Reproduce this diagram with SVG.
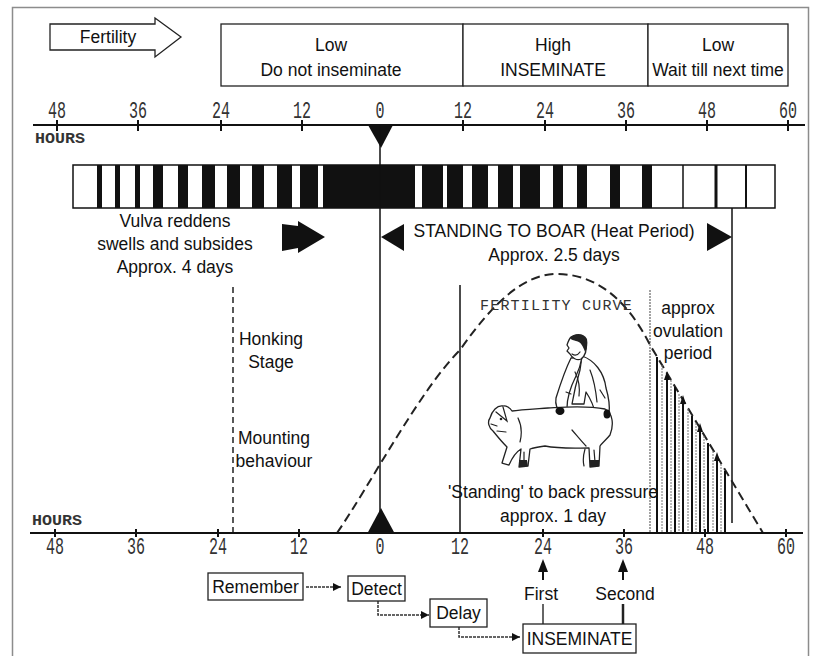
<svg xmlns="http://www.w3.org/2000/svg" width="818" height="656" viewBox="0 0 818 656">
  <style>
    .lbl { font-family: "Liberation Sans", Arial, sans-serif; font-size: 17.5px; fill: #111; }
    .mid { text-anchor: middle; }
    .num { font-family: "Liberation Mono", "DejaVu Sans Mono", monospace; font-size: 23px; fill: #333; text-anchor: middle; }
    .hrs { font-family: "Liberation Mono", "DejaVu Sans Mono", monospace; font-size: 14px; font-weight: bold; fill: #333; }
    .curve-lbl { font-family: "Liberation Mono", "DejaVu Sans Mono", monospace; font-size: 15px; letter-spacing: 1.2px; fill: #333; }
    .box { fill: #fff; stroke: #222; stroke-width: 1.3; }
    .axis { stroke: #111; stroke-width: 2; fill: none; }
    .tick { stroke: #111; stroke-width: 2; }
    .thin { stroke: #111; stroke-width: 1.5; fill: none; }
    .dash { stroke: #222; stroke-width: 1.5; stroke-dasharray: 6 4; fill: none; }
    .fcurve { stroke: #222; stroke-width: 2; stroke-dasharray: 9 5; fill: none; }
    .hatch { stroke: #111; stroke-width: 2; }
    .hatch2 { stroke: #777; stroke-width: 1; stroke-dasharray: 2 1; }
    .flow { stroke: #333; stroke-width: 1.5; stroke-dasharray: 3 1; fill: none; }
    .sketch { stroke: #222; stroke-width: 1.3; fill: #fff; stroke-linejoin: round; stroke-linecap: round; }
    .sk-line { stroke: #222; stroke-width: 1.2; fill: none; stroke-linecap: round; }
  </style>
  <defs>
    <marker id="arr" markerUnits="userSpaceOnUse" markerWidth="9" markerHeight="8" refX="8" refY="4" orient="auto">
      <path d="M0,0 L8,4 L0,8 z" fill="#111"/>
    </marker>
  </defs>

  <!-- page frame -->
  <rect x="12.5" y="7.5" width="796" height="660" fill="#fff" stroke="#8c8c8c" stroke-width="1.5"/>

  <!-- fertility legend -->
  <g id="fertility-arrow">
    <polygon class="box" points="50,24 155,24 155,18 181,37 155,57 155,50 50,50"/>
    <text class="lbl mid" x="108" y="43">Fertility</text>
  </g>
  <g id="phase-low">
    <rect class="box" x="221" y="24" width="242" height="62"/>
    <text class="lbl mid" x="331" y="51">Low</text>
    <text class="lbl mid" x="331" y="76">Do not inseminate</text>
  </g>
  <g id="phase-high">
    <rect class="box" x="463" y="24" width="185" height="62"/>
    <text class="lbl mid" x="553" y="51">High</text>
    <text class="lbl mid" x="553" y="76">INSEMINATE</text>
  </g>
  <g id="phase-late">
    <rect class="box" x="648" y="24" width="140" height="62"/>
    <text class="lbl mid" x="718" y="51">Low</text>
    <text class="lbl mid" x="718" y="76">Wait till next time</text>
  </g>

  <!-- upper hour scale -->
  <g id="top-scale">
    <line class="axis" x1="33" y1="125" x2="805" y2="125"/>
    <g class="tick">
      <line x1="57" y1="120" x2="57" y2="131"/><line x1="138" y1="120" x2="138" y2="131"/>
      <line x1="221" y1="120" x2="221" y2="131"/><line x1="302" y1="120" x2="302" y2="131"/>
      <line x1="463" y1="120" x2="463" y2="131"/><line x1="545" y1="120" x2="545" y2="131"/>
      <line x1="626" y1="120" x2="626" y2="131"/><line x1="707" y1="120" x2="707" y2="131"/>
      <line x1="788" y1="120" x2="788" y2="131"/>
    </g>
    <text class="num" x="57" y="118" textLength="18" lengthAdjust="spacingAndGlyphs">48</text>
    <text class="num" x="138" y="118" textLength="18" lengthAdjust="spacingAndGlyphs">36</text>
    <text class="num" x="221" y="118" textLength="18" lengthAdjust="spacingAndGlyphs">24</text>
    <text class="num" x="302" y="118" textLength="18" lengthAdjust="spacingAndGlyphs">12</text>
    <text class="num" x="380" y="118" textLength="9" lengthAdjust="spacingAndGlyphs">0</text>
    <text class="num" x="463" y="118" textLength="18" lengthAdjust="spacingAndGlyphs">12</text>
    <text class="num" x="545" y="118" textLength="18" lengthAdjust="spacingAndGlyphs">24</text>
    <text class="num" x="626" y="118" textLength="18" lengthAdjust="spacingAndGlyphs">36</text>
    <text class="num" x="707" y="118" textLength="18" lengthAdjust="spacingAndGlyphs">48</text>
    <text class="num" x="788" y="118" textLength="18" lengthAdjust="spacingAndGlyphs">60</text>
    <text class="hrs" x="35" y="143" textLength="50" lengthAdjust="spacingAndGlyphs">HOURS</text>
    <polygon points="368,125 393,125 381,148" fill="#111"/>
  </g>

  <!-- vulva colour bar -->
  <g id="colour-bar">
    <rect x="73" y="165" width="702" height="43" fill="#fff" stroke="#111" stroke-width="1.5"/>
    <g fill="#111">
      <rect x="97" y="165" width="5" height="43"/><rect x="115" y="165" width="5" height="43"/>
      <rect x="135" y="165" width="5" height="43"/><rect x="153" y="165" width="10" height="43"/>
      <rect x="178" y="165" width="10" height="43"/><rect x="202" y="165" width="13" height="43"/>
      <rect x="227" y="165" width="13" height="43"/><rect x="252" y="165" width="12" height="43"/>
      <rect x="277" y="165" width="15" height="43"/><rect x="300" y="165" width="18" height="43"/>
      <rect x="323" y="165" width="92" height="43"/>
      <rect x="422" y="165" width="21" height="43"/><rect x="447" y="165" width="16" height="43"/>
      <rect x="472" y="165" width="16" height="43"/><rect x="498" y="165" width="15" height="43"/>
      <rect x="520" y="165" width="20" height="43"/><rect x="553" y="165" width="10" height="43"/>
      <rect x="577" y="165" width="10" height="43"/><rect x="610" y="165" width="10" height="43"/>
      <rect x="642" y="165" width="10" height="43"/>
    </g>
    <line x1="683" y1="165" x2="683" y2="208" stroke="#111" stroke-width="1.5"/>
    <line x1="716" y1="165" x2="716" y2="208" stroke="#111" stroke-width="3"/>
    <line x1="746" y1="165" x2="746" y2="208" stroke="#111" stroke-width="2"/>
  </g>

  <!-- vulva changes -->
  <g id="vulva-note">
    <text class="lbl mid" x="175" y="227">Vulva reddens</text>
    <text class="lbl mid" x="175" y="250">swells and subsides</text>
    <text class="lbl mid" x="175" y="273">Approx. 4 days</text>
    <polygon points="282,224 298,226 298,221 325,237 298,253 298,248 282,251" fill="#111"/>
  </g>

  <!-- heat period -->
  <g id="heat-period">
    <polygon points="381,237 404,224 404,251" fill="#111"/>
    <polygon points="707,223 707,251 732,237" fill="#111"/>
    <text class="lbl mid" x="554" y="237">STANDING TO BOAR (Heat Period)</text>
    <text class="lbl mid" x="554" y="261">Approx. 2.5 days</text>
  </g>

  <!-- guide lines and the fertility curve -->
  <g id="connectors">
    <line class="thin" x1="380" y1="125" x2="380" y2="520"/>
    <line class="thin" x1="732" y1="208" x2="732" y2="523"/>
    <line class="thin" x1="460" y1="285" x2="460" y2="533"/>
    <line class="dash" x1="233" y1="287" x2="233" y2="533"/>
    <line x1="650" y1="290" x2="650" y2="533" stroke="#666" stroke-width="1.2" stroke-dasharray="2 1"/>
    <path class="fcurve" d="M337,533 C370,485 420,390 460,350 C495,300 525,274 557,274 C600,274 630,305 650,345 L763,533"/>
    <!-- ovulation hatching -->
    <g class="hatch">
      <line x1="657" y1="357" x2="657" y2="533"/><line x1="667" y1="374" x2="667" y2="533"/>
      <line x1="675" y1="387" x2="675" y2="533"/><line x1="683" y1="401" x2="683" y2="533"/>
      <line x1="692" y1="416" x2="692" y2="533"/><line x1="700" y1="429" x2="700" y2="533"/>
      <line x1="708" y1="443" x2="708" y2="533"/><line x1="717" y1="458" x2="717" y2="533"/>
      <line x1="725" y1="471" x2="725" y2="533"/>
    </g>
    <g class="hatch2">
      <line x1="662" y1="365" x2="662" y2="533"/><line x1="671" y1="380" x2="671" y2="533"/>
      <line x1="679" y1="394" x2="679" y2="533"/><line x1="688" y1="409" x2="688" y2="533"/>
      <line x1="696" y1="423" x2="696" y2="533"/><line x1="704" y1="436" x2="704" y2="533"/>
      <line x1="713" y1="451" x2="713" y2="533"/><line x1="721" y1="464" x2="721" y2="533"/>
    </g>
    <g fill="#111">
      <polygon points="664,380 667,371 670,380"/><polygon points="680,404 683,395 686,404"/>
      <polygon points="697,432 700,423 703,432"/><polygon points="714,461 717,452 720,461"/>
    </g>
    <!-- insemination flow -->
    <line class="flow" x1="306" y1="587" x2="341" y2="587" marker-end="url(#arr)"/>
    <path class="flow" d="M378,601 V615 H429" marker-end="url(#arr)"/>
    <path class="flow" d="M459,627 V637 H520" marker-end="url(#arr)"/>
    <line x1="543" y1="604" x2="543" y2="624" stroke="#333" stroke-width="1.5"/>
    <line x1="623" y1="604" x2="623" y2="624" stroke="#222" stroke-width="2.5"/>
    <line x1="543" y1="580" x2="543" y2="568" stroke="#111" stroke-width="2"/>
    <polygon points="538,572 543,559 548,572" fill="#111"/>
    <line x1="623" y1="580" x2="623" y2="568" stroke="#111" stroke-width="2"/>
    <polygon points="618,572 623,559 628,572" fill="#111"/>
  </g>

  <text class="curve-lbl" x="480" y="310">FERTILITY CURVE</text>

  <g id="behaviour-notes">
    <text class="lbl mid" x="271" y="345">Honking</text>
    <text class="lbl mid" x="271" y="368">Stage</text>
    <text class="lbl mid" x="274" y="444">Mounting</text>
    <text class="lbl mid" x="274" y="467">behaviour</text>
  </g>

  <g id="ovulation-note">
    <text class="lbl mid" x="688" y="314">approx</text>
    <text class="lbl mid" x="688" y="337">ovulation</text>
    <text class="lbl mid" x="688" y="359">period</text>
  </g>

  <!-- farmer leaning on the sow's back -->
  <g id="back-pressure-sketch">
    <!-- farmer: jacket, leg and arm -->
    <path class="sketch" d="M582,356 C594,360 604,372 606,388 C609,398 610,406 609,414 L596,416 C594,406 590,398 586,392 L584,404 L572,404 C574,392 577,380 580,370 Z"/>
    <path class="sketch" d="M571,358 C566,368 561,382 556,398 C555,404 557,410 561,412 L567,408 C567,398 571,386 576,376 C579,370 581,363 582,357 Z"/>
    <path class="sk-line" d="M575,372 C579,380 580,388 579,396 M590,370 C594,380 596,392 597,402 M566,392 L571,394 M600,390 L605,398"/>
    <!-- farmer: head with cap of hair and face profile -->
    <path class="sketch" d="M571,337 C577,333 585,336 586,343 C587,350 585,356 581,359 C577,361 572,358 570,354 L567,351 L569,348 L567,345 C568,342 569,339 571,337 Z"/>
    <path d="M570,338 C575,332 584,333 587,339 C588,344 587,349 585,352 C583,346 581,342 576,341 C574,340 571,340 570,338 Z" fill="#222"/>
    <path class="sk-line" d="M572,354 C575,356 578,355 580,352"/>
    <!-- sow -->
    <path class="sketch" d="M490,418 C492,411 497,405 503,406 C506,405 510,408 512,411 C520,410 535,409 548,408 C565,407 585,405 605,409 C613,413 614,425 610,435 C606,440 602,443 600,446 L599,466 L590,467 L589,448 C575,448 560,449 545,446 C538,447 533,448 530,449 L528,466 L519,467 L521,449 C516,452 512,458 509,465 L502,463 L507,447 C502,442 497,436 493,431 C489,428 487,422 490,418 Z"/>
    <path class="sk-line" d="M496,412 L507,421 L503,407 M491,424 L497,426 M497,431 L506,432 M518,418 C522,426 522,434 520,442 M585,449 C583,456 583,462 584,466 M524,452 L524,463 M594,450 L595,462 M572,430 C578,437 582,442 586,446"/>
    <circle cx="501" cy="419" r="1.3" fill="#222"/>
    <ellipse cx="560" cy="411" rx="4.5" ry="4" fill="#111"/>
    <ellipse cx="607" cy="414" rx="3.5" ry="4.5" fill="#111"/>
    <path d="M519,460 L527,460 L528,466 L519,467 Z M590,460 L599,460 L599,466 L590,467 Z" fill="#222"/>
  </g>

  <g id="standing-note">
    <text class="lbl mid" x="553" y="498">'Standing' to back pressure</text>
    <text class="lbl mid" x="553" y="522">approx. 1 day</text>
  </g>

  <!-- lower hour scale -->
  <g id="bottom-scale">
    <line class="axis" x1="30" y1="533" x2="803" y2="533"/>
    <g class="tick">
      <line x1="55" y1="529" x2="55" y2="537"/><line x1="136" y1="529" x2="136" y2="537"/>
      <line x1="218" y1="529" x2="218" y2="537"/><line x1="299" y1="529" x2="299" y2="537"/>
      <line x1="543" y1="529" x2="543" y2="537"/><line x1="624" y1="529" x2="624" y2="537"/>
      <line x1="705" y1="529" x2="705" y2="537"/><line x1="786" y1="529" x2="786" y2="537"/>
    </g>
    <text class="hrs" x="32" y="525" textLength="50" lengthAdjust="spacingAndGlyphs">HOURS</text>
    <text class="num" x="55" y="554" textLength="18" lengthAdjust="spacingAndGlyphs">48</text>
    <text class="num" x="136" y="554" textLength="18" lengthAdjust="spacingAndGlyphs">36</text>
    <text class="num" x="218" y="554" textLength="18" lengthAdjust="spacingAndGlyphs">24</text>
    <text class="num" x="299" y="554" textLength="18" lengthAdjust="spacingAndGlyphs">12</text>
    <text class="num" x="380" y="554" textLength="9" lengthAdjust="spacingAndGlyphs">0</text>
    <text class="num" x="460" y="554" textLength="18" lengthAdjust="spacingAndGlyphs">12</text>
    <text class="num" x="543" y="554" textLength="18" lengthAdjust="spacingAndGlyphs">24</text>
    <text class="num" x="624" y="554" textLength="18" lengthAdjust="spacingAndGlyphs">36</text>
    <text class="num" x="705" y="554" textLength="18" lengthAdjust="spacingAndGlyphs" fill="#777">48</text>
    <text class="num" x="786" y="554" textLength="18" lengthAdjust="spacingAndGlyphs" fill="#777">60</text>
    <polygon points="367,534 395,534 381,508" fill="#111"/>
  </g>

  <!-- insemination steps -->
  <g id="step-remember">
    <rect class="box" x="208" y="573" width="95" height="27"/>
    <text class="lbl mid" x="255.5" y="593">Remember</text>
  </g>
  <g id="step-detect">
    <rect class="box" x="348" y="576" width="57" height="25"/>
    <text class="lbl mid" x="376.5" y="595">Detect</text>
  </g>
  <g id="step-delay">
    <rect class="box" x="430" y="599" width="57" height="28"/>
    <text class="lbl mid" x="458.5" y="619">Delay</text>
  </g>
  <g id="step-inseminate">
    <rect class="box" x="523" y="624" width="113" height="29"/>
    <text class="lbl mid" x="579.5" y="645">INSEMINATE</text>
  </g>
  <g id="timing-labels">
    <text class="lbl mid" x="541" y="600">First</text>
    <text class="lbl mid" x="625" y="600">Second</text>
  </g>
</svg>
